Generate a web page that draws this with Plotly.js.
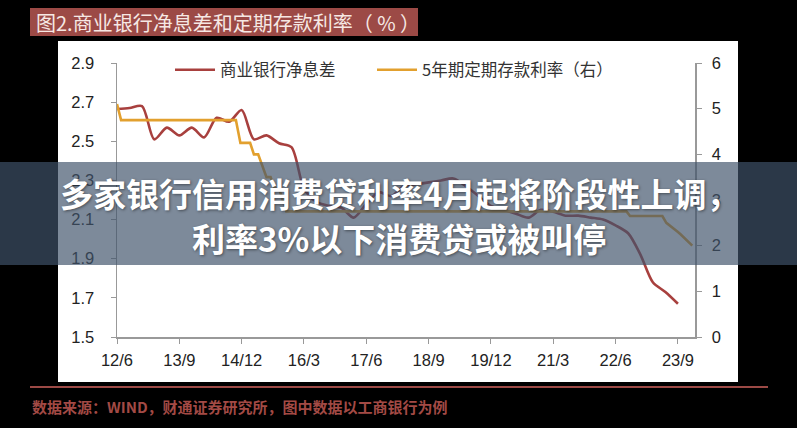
<!DOCTYPE html>
<html>
<head>
<meta charset="utf-8">
<script src="https://cdn.plot.ly/plotly-3.0.1.min.js"></script>
<style>html,body{margin:0;padding:0;background:#000;}#chart{width:797px;height:428px;}</style>
</head>
<body>
<div id="chart"></div>
<script>
// ---- data ----
const nimDates = ["2012-06","2012-09","2012-12","2013-03","2013-06","2013-09","2013-12","2014-03","2014-06","2014-09","2014-12",
  "2015-03","2015-06","2015-09","2015-12","2016-03","2016-06","2016-09","2016-12","2017-03","2017-06","2017-09","2017-12",
  "2018-03","2018-06","2018-09","2018-12","2019-03","2019-06","2019-09","2019-12","2020-03","2020-06","2020-09","2020-12",
  "2021-03","2021-06","2021-09","2021-12","2022-03","2022-06","2022-09","2022-12","2023-03","2023-06","2023-09"];
const nimValues = [2.665,2.67,2.68,2.51,2.57,2.53,2.57,2.52,2.62,2.60,2.66,
  2.51,2.53,2.49,2.47,2.26,2.19,2.17,2.16,2.11,2.18,2.24,2.22,
  2.27,2.28,2.29,2.30,2.31,2.27,2.22,2.17,2.15,2.13,2.11,2.15,
  2.14,2.12,2.12,2.11,2.10,2.07,2.03,1.92,1.78,1.73,1.67];
const depDates = ["2012-06-01","2012-07-01","2014-10-20","2014-11-22","2015-02-01","2015-03-01","2015-04-01","2015-05-01",
  "2015-06-01","2015-07-01","2015-08-01","2015-09-01","2015-10-24","2022-08-20","2022-09-15","2023-05-10","2023-06-08",
  "2023-09-01","2023-09-20","2023-12-15"];
const depValues = [5.10,4.75,4.75,4.25,4.25,4.00,4.00,3.75,3.50,3.50,3.25,3.25,2.75,2.75,2.65,2.65,2.50,2.30,2.25,2.00];
const tickDates = ["2012-06","2013-09","2014-12","2016-03","2017-06","2018-09","2019-12","2021-03","2022-06","2023-09"];
const tickLabels = ["12/6","13/9","14/12","16/3","17/6","18/9","19/12","21/3","22/6","23/9"];
const seriesNames = ["商业银行净息差","5年期定期存款利率（右）"];
const titleText = "图2.商业银行净息差和定期存款利率（ % ）";
const sourceText = "数据来源：WIND，财通证券研究所，图中数据以工商银行为例";
const headline1 = "多家银行信用消费贷利率4月起将阶段性上调，";
const headline2 = "利率3%以下消费贷或被叫停";

// ---- plot ----
const W = 797, H = 428, L = 117, R = 695, T = 63, B = 337;
const px = x => (x - L) / (R - L);
const py = y => (B - y) / (B - T);
const brown = "#9c4a46";

const traces = [
  {x: nimDates, y: nimValues, name: seriesNames[0], type: "scatter", mode: "lines",
   line: {color: "#a8403e", width: 2.6, shape: "spline", smoothing: 0.8}, yaxis: "y", legend: "legend"},
  {x: depDates, y: depValues, name: seriesNames[1], type: "scatter", mode: "lines",
   line: {color: "#e2a02e", width: 2.6}, yaxis: "y2", legend: "legend2"}
];

const tickFont = {family: "Liberation Sans, Arial, sans-serif", size: 16.5, color: "#222"};
const legendFont = {family: "Noto Sans CJK SC", size: 16.5, color: "#333"};
const layout = {
  width: W, height: H,
  margin: {l: L, r: W - R, t: T, b: H - B, pad: 0},
  paper_bgcolor: "#000", plot_bgcolor: "#fff",
  showlegend: true,
  legend: {orientation: "h", x: px(170), y: py(70), xanchor: "left", yanchor: "middle",
    bgcolor: "rgba(0,0,0,0)", font: legendFont, itemwidth: 40},
  legend2: {orientation: "h", x: px(372), y: py(70), xanchor: "left", yanchor: "middle",
    bgcolor: "rgba(0,0,0,0)", font: legendFont, itemwidth: 40},
  xaxis: {type: "date", range: ["2012-06-01", "2024-01-04"], tickmode: "array", tickvals: tickDates, ticktext: tickLabels,
    showgrid: false, zeroline: false, showline: true, linecolor: "#999", linewidth: 1.5,
    ticks: "outside", ticklen: 5, tickcolor: "#999", tickfont: tickFont, ticklabelstandoff: 3},
  yaxis: {range: [1.5, 2.9], dtick: 0.2, tick0: 1.5, tickformat: ".1f", showgrid: false, zeroline: false,
    showline: true, linecolor: "#999", linewidth: 1.5, ticks: "outside", ticklen: 5, tickcolor: "#999",
    tickfont: tickFont, ticklabelstandoff: 13},
  yaxis2: {range: [0, 6], dtick: 1, overlaying: "y", side: "right", showgrid: false, zeroline: false,
    showline: true, linecolor: "#999", linewidth: 1.5, ticks: "outside", ticklen: 5, tickcolor: "#999",
    tickfont: tickFont, ticklabelstandoff: 7},
  shapes: [
    {type: "rect", xref: "paper", yref: "paper", x0: px(58), x1: px(738), y0: py(382), y1: py(41),
     fillcolor: "#fff", line: {width: 0}, layer: "below"},
    {type: "rect", xref: "paper", yref: "paper", x0: px(30), x1: px(418), y0: py(36), y1: py(8),
     fillcolor: brown, line: {width: 0}, layer: "below"},
    {type: "line", xref: "paper", yref: "paper", x0: px(30), x1: px(768), y0: py(387), y1: py(387),
     line: {color: brown, width: 2}},
    {type: "rect", xref: "paper", yref: "paper", x0: px(0), x1: px(797), y0: py(265), y1: py(162),
     fillcolor: "rgba(63,82,106,0.68)", line: {width: 0}, layer: "above"}
  ],
  annotations: [
    {text: titleText, xref: "paper", yref: "paper", x: px(34), y: py(22), xanchor: "left", yanchor: "middle",
     showarrow: false, font: {family: "Noto Sans CJK SC", size: 20, color: "#f6e8e4"}},
    {text: sourceText, xref: "paper", yref: "paper", x: px(30), y: py(406), xanchor: "left", yanchor: "middle",
     showarrow: false, font: {family: "Noto Sans CJK SC", size: 15, color: "#a34a45", weight: "bold"}},
    {text: headline1, xref: "paper", yref: "paper", x: px(399), y: py(193), xanchor: "center", yanchor: "middle",
     showarrow: false, font: {family: "Noto Sans CJK SC", size: 33, color: "#fff", weight: "bold",
     shadow: "1px 1px 3px rgba(0,0,0,0.45)"}},
    {text: headline2, xref: "paper", yref: "paper", x: px(399), y: py(238), xanchor: "center", yanchor: "middle",
     showarrow: false, font: {family: "Noto Sans CJK SC", size: 33, color: "#fff", weight: "bold",
     shadow: "1px 1px 3px rgba(0,0,0,0.45)"}}
  ]
};
Plotly.newPlot("chart", traces, layout, {displayModeBar: false, staticPlot: true});
</script>
</body>
</html>
